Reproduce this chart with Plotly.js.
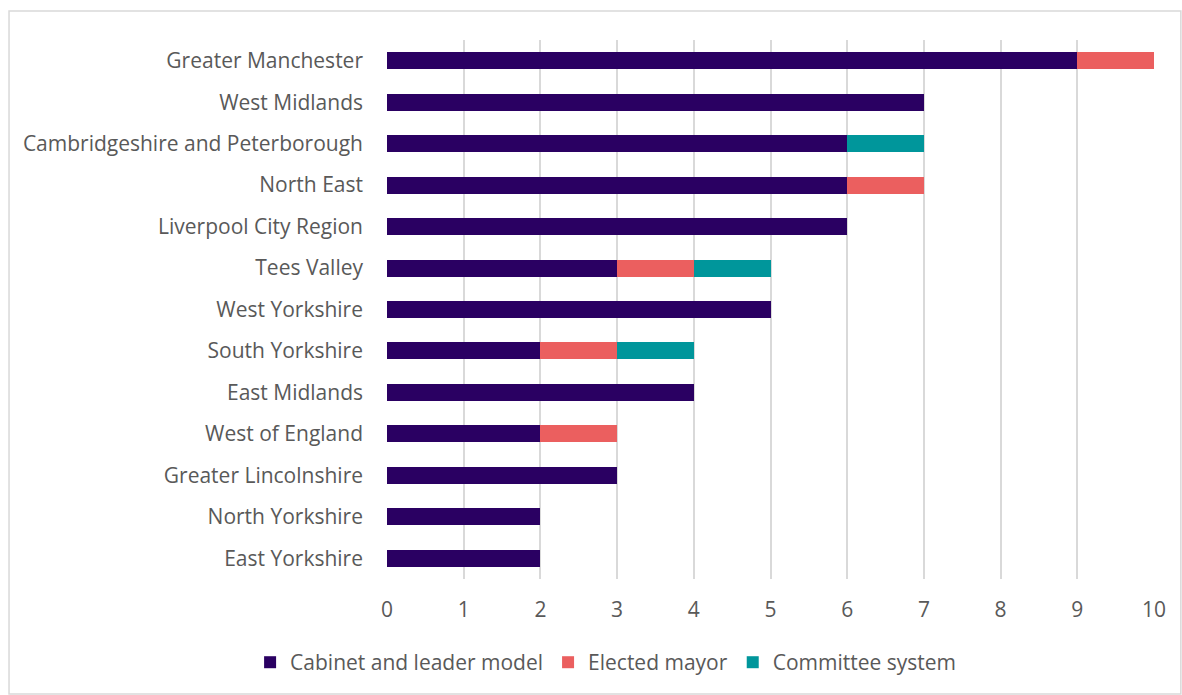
<!DOCTYPE html>
<html><head><meta charset="utf-8">
<script src="https://cdn.plot.ly/plotly-3.0.1.min.js"></script>
<style>html,body{margin:0;padding:0;background:#fff}#chart{width:1182px;height:695px}</style>
</head><body><div id="chart"></div>
<script>
const categories = ["Greater Manchester","West Midlands","Cambridgeshire and Peterborough","North East","Liverpool City Region","Tees Valley","West Yorkshire","South Yorkshire","East Midlands","West of England","Greater Lincolnshire","North Yorkshire","East Yorkshire"];
const cabinetLeader = [9,7,6,6,6,3,5,2,4,2,3,2,2];
const electedMayor = [1,0,0,1,0,1,0,1,0,1,0,0,0];
const committeeSystem = [0,0,1,0,0,1,0,1,0,0,0,0,0];
const xTicks = [0,1,2,3,4,5,6,7,8,9,10];

const font = {family:"Open Sans, sans-serif", size:21, color:"#595959"};
const mk = (name, vals, color) => ({type:"bar", orientation:"h", name, y:categories, x:vals, marker:{color}, width:0.41, hoverinfo:"x+y+name"});
const data = [
  mk("Cabinet and leader model", cabinetLeader, "#2A0062"),
  mk("Elected mayor", electedMayor, "#EB5F5F"),
  mk("Committee system", committeeSystem, "#00969B")
];
const layout = {
  width:1182, height:695,
  margin:{l:387, r:28, t:40, b:116, autoexpand:false},
  barmode:"stack",
  paper_bgcolor:"#fff", plot_bgcolor:"#fff",
  font,
  xaxis:{range:[0,10], tickvals:xTicks, showgrid:true, gridcolor:"#d9d9d9", gridwidth:2, zeroline:false, showline:false, ticks:"", ticklen:0, tickfont:font, ticklabelstandoff:16, fixedrange:true, automargin:false},
  yaxis:{autorange:"reversed", showgrid:false, zeroline:false, ticks:"", tickfont:font, ticklabelstandoff:23, automargin:false, fixedrange:true},
  showlegend:true,
  legend:{orientation:"h", x:0.285, xanchor:"center", y:-0.117, yanchor:"top", font, traceorder:"normal", itemwidth:30},
  shapes:[{type:"rect", xref:"paper", yref:"paper", x0:-0.4928, x1:1.035, y0:-0.2134, y1:1.0538, line:{color:"#d9d9d9", width:1.5}, fillcolor:"rgba(0,0,0,0)", layer:"below"}]
};
Plotly.newPlot("chart", data, layout, {displayModeBar:false, staticPlot:true});
</script></body></html>
